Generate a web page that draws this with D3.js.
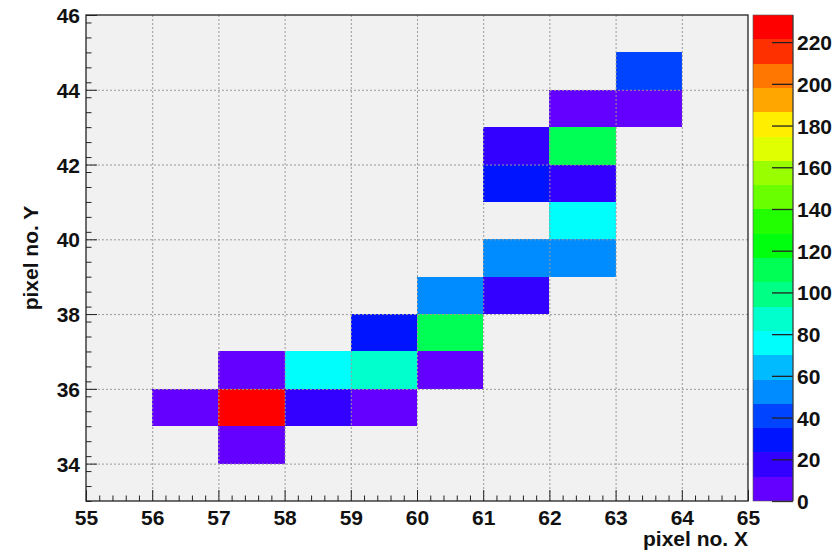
<!DOCTYPE html>
<html>
<head>
<meta charset="utf-8">
<script src="https://cdn.jsdelivr.net/npm/d3@7/dist/d3.min.js"></script>
<style>
  html, body { margin: 0; padding: 0; background: #ffffff; }
  svg { display: block; }
  text { font-family: "Liberation Sans", Arial, Helvetica, sans-serif; font-weight: bold; fill: #111; }
</style>
</head>
<body>
<svg id="chart" width="840" height="554"></svg>
<script>
// ---- data (bin lower edges and counts) ----
const binX   = [56, 57, 57, 58, 59, 57, 58, 59, 60, 59, 60, 60, 61, 61, 62, 62, 61, 62, 61, 62, 62, 63, 63];
const binY   = [35, 34, 35, 35, 35, 36, 36, 36, 36, 37, 37, 38, 38, 39, 39, 40, 41, 41, 42, 42, 43, 43, 44];
const counts = [ 6,  8, 233, 17,  7,  9, 76, 88,  6, 29, 111, 53, 18, 55, 54, 75, 30, 19, 20, 110, 5,  7, 40];

const xDomain = [55, 65];
const yDomain = [33, 46];
const zDomain = [0, 233];
const xTickValues = [55, 56, 57, 58, 59, 60, 61, 62, 63, 64, 65];
const yTickValues = [34, 36, 38, 40, 42, 44, 46];
const zTickValues = [0, 20, 40, 60, 80, 100, 120, 140, 160, 180, 200, 220];
const nContours = 20;

// ---- layout ----
const frame = { left: 86, right: 748, top: 15, bottom: 501 };
const bar = { left: 753, right: 793 };

const svg = d3.select("#chart");

const x = d3.scaleLinear().domain(xDomain).range([frame.left, frame.right]);
const y = d3.scaleLinear().domain(yDomain).range([frame.bottom, frame.top]);
const z = d3.scaleLinear().domain(zDomain).range([frame.bottom, frame.top]);

// ROOT "pretty" palette (50 colours, HLS hue 280 -> 0), mapped to 20 contour levels
function prettyColor(i) {
  const hue = 280 - (i + 1) * (280 / 50);
  return d3.hsl(hue, 1, 0.5).formatHex();
}
function bandColor(k) {
  const idx = Math.floor((k + 0.99) * 50 / nContours);
  return prettyColor(idx);
}
function valueBand(v) {
  const k = Math.floor((v - zDomain[0]) / (zDomain[1] - zDomain[0]) * nContours + 0.01);
  return Math.max(0, Math.min(nContours - 1, k));
}

// plot background
svg.append("rect")
  .attr("x", frame.left).attr("y", frame.top)
  .attr("width", frame.right - frame.left).attr("height", frame.bottom - frame.top)
  .attr("fill", "#f1f1f1");

// cells
const cells = binX.map((bx, i) => ({ x: bx, y: binY[i], v: counts[i] }));
svg.append("g").selectAll("rect").data(cells).join("rect")
  .attr("x", d => x(d.x))
  .attr("y", d => y(d.y + 1))
  .attr("width", d => x(d.x + 1) - x(d.x))
  .attr("height", d => y(d.y) - y(d.y + 1))
  .attr("fill", d => bandColor(valueBand(d.v)))
  .attr("shape-rendering", "crispEdges");

// grid (dotted, on top of cells)
const grid = svg.append("g").attr("stroke", "#9a9a9a").attr("stroke-width", 1)
  .attr("stroke-dasharray", "2,2");
grid.selectAll("line.vx").data(xTickValues.filter(v => v > xDomain[0] && v < xDomain[1])).join("line")
  .attr("x1", d => x(d) + 0.5).attr("x2", d => x(d) + 0.5)
  .attr("y1", frame.top).attr("y2", frame.bottom);
grid.selectAll("line.hy").data(yTickValues.filter(v => v > yDomain[0] && v < yDomain[1])).join("line")
  .attr("y1", d => y(d) + 0.5).attr("y2", d => y(d) + 0.5)
  .attr("x1", frame.left).attr("x2", frame.right);

// axes ticks (inward)
const majorLen = 11, minorLen = 5.5;
const xMinor = d3.range(55, 65.0001, 0.2).filter(v => Math.abs(v - Math.round(v)) > 1e-6);
const yMinor = d3.range(33, 46.0001, 0.4).filter(v => Math.abs((v / 2) - Math.round(v / 2)) > 1e-6);

const xAxisG = svg.append("g").attr("transform", `translate(0,${frame.bottom})`);
xAxisG.call(d3.axisBottom(x).tickValues(xTickValues).tickSize(-majorLen).tickPadding(0).tickFormat(d3.format("d")))
  .call(g => g.select(".domain").remove());
xAxisG.selectAll(".tick line").attr("stroke", "#222");
xAxisG.selectAll(".tick text").attr("y", 24).attr("dy", 0)
  .style("font-size", "21px").style("font-family", "'Liberation Sans', Arial, sans-serif").style("font-weight", "bold").attr("fill", "#111");
const xMinorG = svg.append("g").attr("transform", `translate(0,${frame.bottom})`);
xMinorG.call(d3.axisBottom(x).tickValues(xMinor).tickSize(-minorLen).tickFormat(""))
  .call(g => g.select(".domain").remove());
xMinorG.selectAll(".tick line").attr("stroke", "#222");

const yAxisG = svg.append("g").attr("transform", `translate(${frame.left},0)`);
yAxisG.call(d3.axisLeft(y).tickValues(yTickValues).tickSize(-majorLen).tickPadding(0).tickFormat(d3.format("d")))
  .call(g => g.select(".domain").remove());
yAxisG.selectAll(".tick line").attr("stroke", "#222");
yAxisG.selectAll(".tick text").attr("x", -6).attr("dy", "0.36em")
  .style("font-size", "21px").style("font-family", "'Liberation Sans', Arial, sans-serif").style("font-weight", "bold").attr("fill", "#111");
const yMinorG = svg.append("g").attr("transform", `translate(${frame.left},0)`);
yMinorG.call(d3.axisLeft(y).tickValues(yMinor).tickSize(-minorLen).tickFormat(""))
  .call(g => g.select(".domain").remove());
yMinorG.selectAll(".tick line").attr("stroke", "#222");

// frame
svg.append("rect")
  .attr("x", frame.left).attr("y", frame.top)
  .attr("width", frame.right - frame.left).attr("height", frame.bottom - frame.top)
  .attr("fill", "none").attr("stroke", "#222").attr("stroke-width", 1.3);

// axis titles
svg.append("text")
  .attr("x", frame.right).attr("y", 546)
  .attr("text-anchor", "end")
  .style("font-size", "21px")
  .text("pixel no. X");
svg.append("text")
  .attr("transform", `translate(38,258) rotate(-90)`)
  .attr("text-anchor", "middle")
  .style("font-size", "21px")
  .text("pixel no. Y");

// colour bar
const bandEdges = d3.range(nContours + 1).map(k => zDomain[0] + k * (zDomain[1] - zDomain[0]) / nContours);
svg.append("g").selectAll("rect").data(d3.range(nContours)).join("rect")
  .attr("x", bar.left)
  .attr("y", k => z(bandEdges[k + 1]))
  .attr("width", bar.right - bar.left)
  .attr("height", k => z(bandEdges[k]) - z(bandEdges[k + 1]))
  .attr("fill", k => bandColor(k))
  .attr("shape-rendering", "crispEdges");

const zAxisG = svg.append("g").attr("transform", `translate(${bar.right},0)`);
zAxisG.call(d3.axisRight(z).tickValues(zTickValues).tickSize(-21).tickPadding(4).tickFormat(d3.format("d")))
  .call(g => g.select(".domain").attr("stroke", "#222").attr("d", `M0,${frame.top}V${frame.bottom}`));
zAxisG.selectAll(".tick line").attr("stroke", "#222").attr("stroke-width", 1.3);
zAxisG.selectAll(".tick text").attr("x", 4).attr("dy", "0.36em")
  .style("font-size", "21px").style("font-family", "'Liberation Sans', Arial, sans-serif").style("font-weight", "bold").attr("fill", "#111");
svg.append("rect")
  .attr("x", bar.left).attr("y", frame.top)
  .attr("width", bar.right - bar.left).attr("height", frame.bottom - frame.top)
  .attr("fill", "none").attr("stroke", "#555").attr("stroke-width", 0.6);
</script>
</body>
</html>
